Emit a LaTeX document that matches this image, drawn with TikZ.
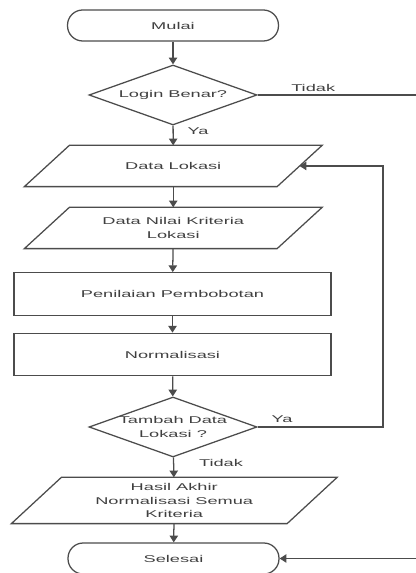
\documentclass[tikz,border=0pt]{standalone}
\usepackage{fontspec}
\newfontfamily\flowfont[FakeStretch=1.85]{Liberation Sans}
\usepackage{tikz}
\usetikzlibrary{arrows.meta, calc, positioning, shapes.geometric}

\definecolor{linec}{gray}{0.3}
\definecolor{textc}{gray}{0.25}

\begin{document}
\begin{tikzpicture}[
    base/.style={draw=linec, line width=0.9pt, text=textc, inner sep=0pt, align=center,
        font=\fontsize{7}{9.6}\selectfont\flowfont},
    terminal/.style={base, rectangle, rounded corners=3.8mm, minimum width=5.275cm, minimum height=0.775cm},
    decision/.style={base, diamond, aspect=2.8, inner sep=-2mm, minimum width=4.2cm, minimum height=1.5cm},
    io/.style={base, draw=none, rectangle, minimum height=1cm},
    process/.style={base, rectangle, minimum width=7.925cm, minimum height=1.06cm},
    arr/.style={draw=linec, line width=0.9pt, -{Triangle[length=1.7mm, width=2.1mm]}},
    lbl/.style={text=textc, inner sep=0pt, font=\fontsize{7}{9.6}\selectfont\flowfont}
]
\useasboundingbox (0,0) rectangle (10.4,14.325);

% Start and login check
\node[terminal] (mulai) at (4.325,13.6875) {Mulai};
\node[decision] (login) at (4.325,11.95) {Login Benar?};

% Input data
\node[io, minimum width=6.2875cm] (lokasi) at (4.331,10.175) {Data Lokasi};
\node[io, minimum width=6.2875cm] (nilai) at (4.331,8.625) {Data Nilai Kriteria\\Lokasi};

% Process steps
\node[process] (bobot) at (4.3125,6.975) {Penilaian Pembobotan};
\node[process] (norm) at (4.3125,5.4625) {Normalisasi};

% Loop check
\node[decision] (tambah) at (4.325,3.65) {Tambah Data\\Lokasi ?};

% Result and end
\node[io, minimum width=6.8625cm, minimum height=1.125cm] (hasil) at (4.356,1.8125) {Hasil Akhir\\Normalisasi Semua\\Kriteria};
\node[terminal] (selesai) at (4.3375,0.3625) {Selesai};

% Parallelogram borders
\foreach \n/\s in {lokasi/0.5625, nilai/0.5625, hasil/0.625} {
    \draw[linec, line width=0.9pt] ($(\n.north west)+(\s,0)$) -- ($(\n.north east)+(\s,0)$)
        -- ($(\n.south east)-(\s,0)$) -- ($(\n.south west)-(\s,0)$) -- cycle;
}

% Main flow
\foreach \a/\b in {mulai/login, login/lokasi, lokasi/nilai, nilai/bobot, bobot/norm, norm/tambah, tambah/hasil, hasil/selesai} {
    \draw[arr] (\a) -- (\b);
}

% Branches
\coordinate (loginout) at (10.4,11.95);
\coordinate (loop) at (9.575,3.65);
\coordinate (endin) at (10.4,0.3625);
\draw[draw=linec, line width=0.9pt] (login.east) -- (loginout);
\draw[arr] (tambah.east) -- (loop) |- (lokasi.east);
\draw[arr] (endin) -- (selesai.east);

% Branch labels
\node[lbl] (tidakA) at (7.83,12.125) {Tidak};
\node[lbl] (yaA) at (4.95,11.05) {Ya};
\node[lbl] (yaB) at (7.05,3.85) {Ya};
\node[lbl] (tidakB) at (5.525,2.75) {Tidak};
\end{tikzpicture}
\end{document}
